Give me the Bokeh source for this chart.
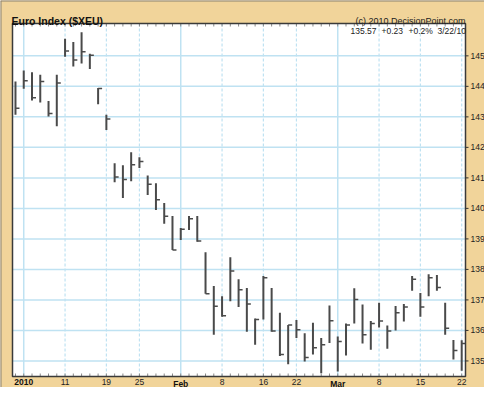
import math
from bokeh.plotting import figure
from bokeh.models import ColumnDataSource, Range1d
from bokeh.core.properties import value
from bokeh.embed import file_html
from bokeh.resources import INLINE

# ---------------- data ----------------
dates = [
    "2009-12-31",
    "2010-01-04", "2010-01-05", "2010-01-06", "2010-01-07", "2010-01-08",
    "2010-01-11", "2010-01-12", "2010-01-13", "2010-01-14", "2010-01-15",
    "2010-01-19", "2010-01-20", "2010-01-21", "2010-01-22",
    "2010-01-25", "2010-01-26", "2010-01-27", "2010-01-28", "2010-01-29",
    "2010-02-01", "2010-02-02", "2010-02-03", "2010-02-04", "2010-02-05",
    "2010-02-08", "2010-02-09", "2010-02-10", "2010-02-11", "2010-02-12",
    "2010-02-16", "2010-02-17", "2010-02-18", "2010-02-19",
    "2010-02-22", "2010-02-23", "2010-02-24", "2010-02-25", "2010-02-26",
    "2010-03-01", "2010-03-02", "2010-03-03", "2010-03-04", "2010-03-05",
    "2010-03-08", "2010-03-09", "2010-03-10", "2010-03-11", "2010-03-12",
    "2010-03-15", "2010-03-16", "2010-03-17", "2010-03-18", "2010-03-19",
    "2010-03-22",
]

high = [144.16, 144.52, 144.46, 144.38, 143.52, 144.38,
        145.56, 145.45, 145.77, 145.07, 143.95,
        143.07, 141.48, 141.41, 141.84,
        141.68, 141.08, 140.82, 140.18, 139.75,
        139.36, 139.75, 139.75, 138.56, 137.46,
        137.12, 138.40, 137.68, 137.39, 136.39,
        137.78, 137.39, 136.58, 136.18,
        136.34, 135.91, 136.25, 135.75, 136.82,
        135.80, 136.23, 137.38, 136.85, 136.31,
        136.91, 136.16, 136.80, 136.87, 137.78,
        137.23, 137.84, 137.82, 136.91, 135.69,
        135.68]

low = [143.07, 143.92, 143.54, 143.47, 143.01, 142.69,
       144.97, 144.65, 144.75, 144.57, 143.41,
       142.57, 140.86, 140.34, 140.89,
       141.32, 140.44, 139.95, 139.50, 138.64,
       138.96, 139.29, 138.91, 137.20, 135.86,
       136.45, 136.96, 136.77, 135.96, 135.53,
       136.36, 135.96, 135.16, 134.89,
       135.75, 134.98, 135.21, 134.60, 135.59,
       134.65, 135.18, 136.23, 135.57, 135.37,
       136.10, 135.40, 136.00, 136.29, 137.30,
       136.45, 137.12, 137.30, 135.86, 135.05,
       134.68]

close = [143.28, 144.18, 143.63, 144.16, 143.11, 144.11,
         145.16, 144.86, 145.13, 145.02, 143.93,
         142.93, 141.03, 140.95, 141.43,
         141.54, 140.79, 140.28, 139.74, 138.64,
         139.32, 139.66, 138.93, 137.20, 136.79,
         136.48, 137.95, 137.33, 136.87, 136.36,
         137.73, 135.98, 135.21, 136.18,
         136.02, 135.11, 135.43, 135.53, 136.32,
         135.64, 136.18, 137.01, 135.86, 136.23,
         136.31, 135.98, 136.58, 136.77, 137.68,
         136.77, 137.73, 137.41, 136.07, 135.34,
         135.57]

label_dates = ["2010-01-04", "2010-01-11", "2010-01-19", "2010-01-25",
               "2010-02-01", "2010-02-08", "2010-02-16", "2010-02-22",
               "2010-03-01", "2010-03-08", "2010-03-15", "2010-03-22"]
label_text = ["2010", "11", "19", "25", "Feb", "8", "16", "22",
              "Mar", "8", "15", "22"]
bold_labels = ["2010", "Feb", "Mar"]
y_ticks = [135, 136, 137, 138, 139, 140, 141, 142, 143, 144, 145]

title_text = "Euro Index ($XEU)"
credit_text = "(c) 2010 DecisionPoint.com"
last_date_text = "3/22/10"

# ---------------- styling / layout ----------------
TAN = "#F1D49A"
GRID = "#BFE2F2"
BAR = "#4a4a4a"
FONT = "Liberation Sans"

W, H = 484, 387
# plot-area box in canvas pixels
PL, PT, PR, PB = 12, 23, 465, 376
# value window shown inside the plot area
xa0, xa1 = -0.36, 54.46
ya0, ya1 = 134.49, 146.06
px_x = (xa1 - xa0) / (PR - PL)
px_y = (ya1 - ya0) / (PB - PT)
xs, xe = xa0 - PL * px_x, xa1 + (W - PR) * px_x
ys_, ye = ya0 - (H - PB) * px_y, ya1 + PT * px_y

p = figure(width=W, height=H, output_backend="svg", toolbar_location=None,
           x_range=Range1d(xs, xe), y_range=Range1d(ys_, ye),
           x_axis_type=None, y_axis_type=None, min_border=0)
p.background_fill_color = TAN
p.border_fill_color = TAN
p.outline_line_color = None

x = list(range(len(dates)))
tick_pos = [dates.index(d) for d in label_dates]
month_pos = [pos for pos, t in zip(tick_pos, label_text) if t in bold_labels]
other_pos = [pos for pos, t in zip(tick_pos, label_text) if t not in bold_labels]

# outer border (left / top edges of the panel)
p.segment(x0=[xs, xs], y0=[ys_, ye], x1=[xs, xe], y1=[ye, ye],
          line_color="#8a8270", line_width=2)

# white plot area
p.quad(left=[xa0], right=[xa1], bottom=[ya0], top=[ya1],
       fill_color="white", line_color=None)

# grid lines
hg = ColumnDataSource(dict(y=y_ticks, xl=[xa0] * len(y_ticks),
                           xr=[xa1] * len(y_ticks)))
p.segment(x0="xl", y0="y", x1="xr", y1="y", source=hg,
          line_color=GRID, line_width=1.5)
vg_o = ColumnDataSource(dict(x=other_pos, yb=[ya0] * len(other_pos),
                             yt=[ya1] * len(other_pos)))
p.segment(x0="x", y0="yb", x1="x", y1="yt", source=vg_o,
          line_color=GRID, line_width=1.2, line_dash="3 2")
vg_m = ColumnDataSource(dict(x=month_pos, yb=[ya0] * len(month_pos),
                             yt=[ya1] * len(month_pos)))
p.segment(x0="x", y0="yb", x1="x", y1="yt", source=vg_m,
          line_color=GRID, line_width=1.5)

# day tick marks along bottom and top (inside)
ticks_src = ColumnDataSource(dict(x=x, yb=[ya0] * len(x), yt=[ya1] * len(x)))
p.ray(x="x", y="yb", length=3, length_units="screen", angle=math.pi / 2,
      source=ticks_src, line_color="#8a8a8a", line_width=1)
p.ray(x="x", y="yt", length=3, length_units="screen", angle=-math.pi / 2,
      source=ticks_src, line_color="#8a8a8a", line_width=1)

# bars (high-low with close tick)
src = ColumnDataSource(dict(x=x, high=high, low=low, close=close))
p.segment(x0="x", y0="low", x1="x", y1="high", source=src,
          line_color=BAR, line_width=2)
p.ray(x="x", y="close", length=4, length_units="screen", angle=0,
      source=src, line_color=BAR, line_width=1.5)

# plot-area border
p.quad(left=[xa0], right=[xa1], bottom=[ya0], top=[ya1],
       fill_color=None, line_color="#3a3a3a", line_width=1.5)

# right price scale: ticks + labels
ysrc = ColumnDataSource(dict(y=y_ticks, x=[xa1] * len(y_ticks),
                             t=[str(v) for v in y_ticks]))
p.ray(x="x", y="y", length=3, length_units="screen", angle=0,
      source=ysrc, line_color="#333333", line_width=1)
p.text(x="x", y="y", text="t", source=ysrc, x_offset=5,
       text_font=value(FONT), text_font_size="8.5px", text_color="#222222",
       text_align="left", text_baseline="middle")

# date labels
norm = ColumnDataSource(dict(
    x=other_pos, y=[ya0] * len(other_pos),
    t=[t for t in label_text if t not in bold_labels]))
bold = ColumnDataSource(dict(
    x=month_pos, y=[ya0] * len(month_pos),
    t=[t for t in label_text if t in bold_labels]))
p.text(x="x", y="y", text="t", source=norm, y_offset=2,
       text_font=value(FONT), text_font_size="8.5px", text_color="#222222",
       text_align="center", text_baseline="top")
p.text(x="x", y="y", text="t", source=bold, y_offset=2,
       text_font=value(FONT), text_font_size="8.5px", text_color="#111111",
       text_font_style="bold", text_align="center", text_baseline="top")

# header texts
p.text(x=[xa0 - 1 * px_x], y=[ya1 + 2.5 * px_y], text=[title_text],
       text_font=value(FONT), text_font_size="10.5px",
       text_font_style="bold", text_color="#111111",
       text_align="left", text_baseline="alphabetic")
p.text(x=[xa1], y=[ya1 + 2.5 * px_y], text=[credit_text],
       text_font=value(FONT), text_font_size="9px", text_color="#222222",
       text_align="right", text_baseline="alphabetic")

# last-bar statistics (four left-aligned fields)
chg = close[-1] - close[-2]
pct = chg / close[-2] * 100
fields = [f"{close[-1]:.2f}", f"{chg:+.2f}", f"{pct:+.1f}%", last_date_text]
st = ColumnDataSource(dict(x=[xa1] * 4, y=[ya1 - 7 * px_y] * 4, t=fields,
                           dx=[-115, -84, -57, -28]))
p.text(x="x", y="y", text="t", x_offset="dx", source=st,
       text_font=value(FONT), text_font_size="8.5px", text_color="#222222",
       text_align="left", text_baseline="alphabetic")

open("out.html", "w").write(file_html(p, INLINE))
